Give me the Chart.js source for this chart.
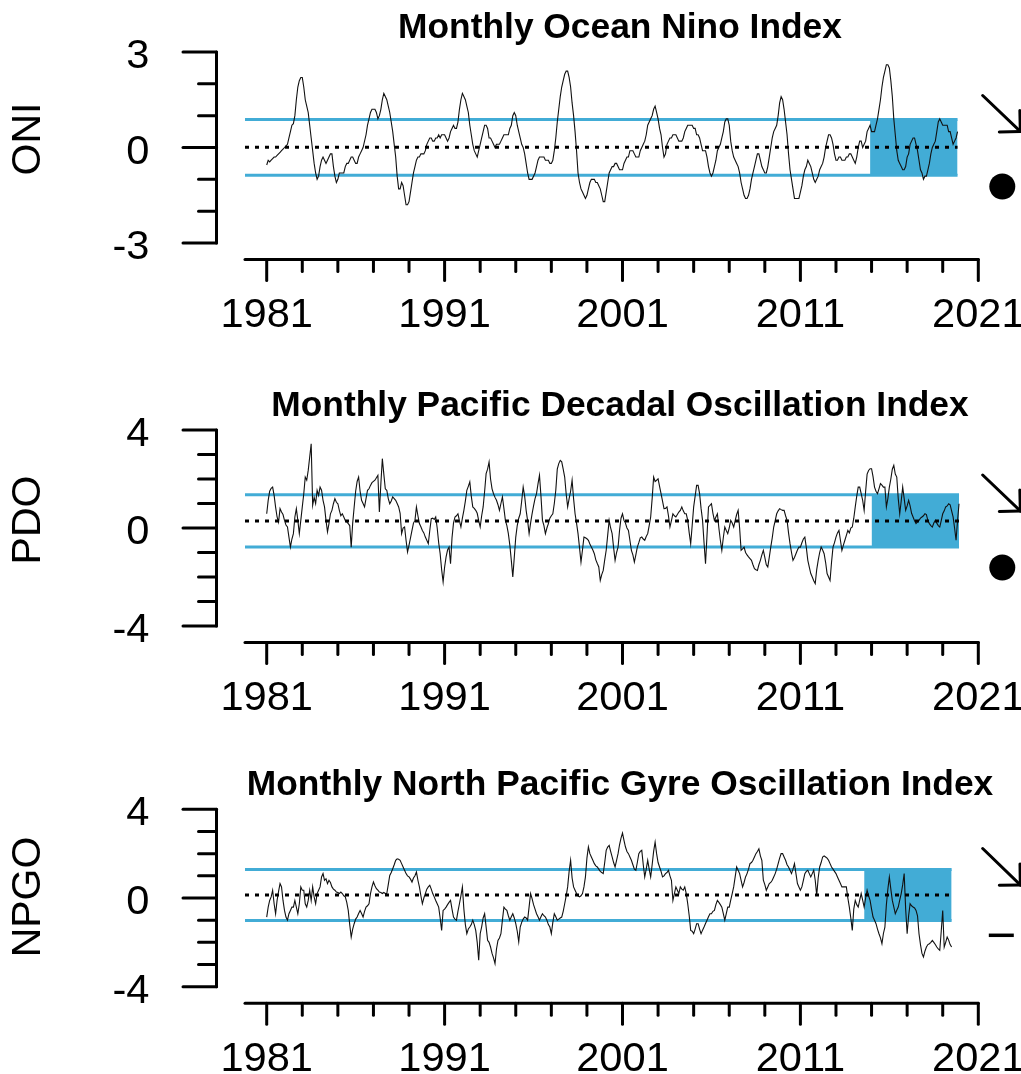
<!DOCTYPE html>
<html><head><meta charset="utf-8">
<script src="https://cdn.jsdelivr.net/npm/chart.js@4/dist/chart.umd.min.js"></script>
<style>
html,body{margin:0;padding:0;background:#fff;overflow:hidden}
#wrap{position:relative;width:1021px;height:1074px;background:#fff}
canvas{position:absolute;left:0}
</style></head><body><div id="wrap">
<canvas id="c1" width="1021" height="360" style="top:0px"></canvas>
<canvas id="c2" width="1021" height="380" style="top:360px"></canvas>
<canvas id="c3" width="1021" height="334" style="top:740px"></canvas>
</div>
<script>
// ---------------- DATA ----------------
const startYear = 1981; // first month = Jan 1981, monthly series
const oniValues = [
-0.55,-0.4,-0.45,-0.4,-0.35,-0.3,-0.3,-0.25,-0.2,-0.15,-0.1,-0.05,
0.0,0.05,0.1,0.3,0.5,0.7,0.75,1.0,1.5,1.9,2.1,2.2,
2.2,1.9,1.5,1.3,1.1,0.7,0.3,-0.1,-0.5,-0.8,-1.0,-0.9,
-0.6,-0.4,-0.3,-0.4,-0.5,-0.4,-0.3,-0.2,-0.2,-0.6,-0.9,-1.1,
-1.0,-0.8,-0.8,-0.8,-0.8,-0.6,-0.5,-0.5,-0.4,-0.3,-0.3,-0.4,
-0.5,-0.5,-0.3,-0.2,-0.1,0.0,0.2,0.4,0.7,0.9,1.1,1.2,
1.2,1.2,1.1,0.9,1.0,1.2,1.5,1.7,1.6,1.5,1.3,1.1,
0.8,0.5,0.1,-0.3,-0.9,-1.3,-1.3,-1.1,-1.2,-1.5,-1.8,-1.8,
-1.7,-1.4,-1.1,-0.8,-0.6,-0.4,-0.3,-0.3,-0.2,-0.2,-0.2,-0.1,
0.1,0.2,0.3,0.3,0.2,0.2,0.3,0.3,0.4,0.3,0.4,0.4,
0.4,0.3,0.2,0.3,0.5,0.6,0.7,0.6,0.6,0.8,1.2,1.5,
1.7,1.6,1.5,1.3,1.1,0.7,0.4,0.1,-0.1,-0.2,-0.3,-0.1,
0.1,0.3,0.5,0.7,0.7,0.6,0.3,0.3,0.2,0.1,0.0,0.1,
0.1,0.1,0.2,0.3,0.4,0.4,0.4,0.4,0.6,0.7,1.0,1.1,
1.0,0.7,0.5,0.3,0.1,0.0,-0.2,-0.5,-0.8,-1.0,-1.0,-1.0,
-0.9,-0.8,-0.6,-0.4,-0.3,-0.3,-0.3,-0.3,-0.4,-0.4,-0.4,-0.5,
-0.5,-0.4,-0.1,0.3,0.8,1.2,1.6,1.9,2.1,2.3,2.4,2.4,
2.2,1.9,1.4,1.0,0.5,-0.1,-0.8,-1.1,-1.3,-1.4,-1.5,-1.6,
-1.5,-1.3,-1.1,-1.0,-1.0,-1.0,-1.1,-1.1,-1.2,-1.3,-1.5,-1.7,
-1.7,-1.4,-1.1,-0.8,-0.7,-0.6,-0.6,-0.5,-0.5,-0.6,-0.7,-0.7,
-0.7,-0.5,-0.4,-0.3,-0.3,-0.1,-0.1,-0.1,-0.2,-0.3,-0.3,-0.3,
-0.1,0.0,0.1,0.2,0.4,0.7,0.8,0.9,1.0,1.2,1.3,1.1,
0.9,0.6,0.4,0.0,-0.3,-0.2,0.1,0.2,0.3,0.3,0.4,0.4,
0.4,0.3,0.2,0.2,0.2,0.3,0.5,0.6,0.7,0.7,0.7,0.7,
0.6,0.6,0.4,0.4,0.3,0.1,-0.1,-0.1,-0.1,-0.3,-0.6,-0.8,
-0.9,-0.8,-0.6,-0.4,-0.1,0.0,0.1,0.3,0.5,0.8,0.9,0.9,
0.7,0.2,-0.1,-0.3,-0.4,-0.5,-0.6,-0.8,-1.1,-1.3,-1.5,-1.6,
-1.6,-1.5,-1.3,-1.0,-0.8,-0.6,-0.4,-0.2,-0.2,-0.4,-0.6,-0.7,
-0.8,-0.8,-0.6,-0.3,0.0,0.3,0.5,0.6,0.7,1.0,1.4,1.6,
1.5,1.2,0.8,0.4,-0.2,-0.7,-1.0,-1.3,-1.6,-1.6,-1.6,-1.6,
-1.4,-1.2,-0.9,-0.7,-0.6,-0.4,-0.5,-0.6,-0.8,-1.0,-1.1,-1.0,
-0.9,-0.7,-0.6,-0.5,-0.3,0.0,0.2,0.4,0.4,0.3,0.1,-0.2,
-0.4,-0.4,-0.3,-0.3,-0.4,-0.4,-0.4,-0.3,-0.3,-0.2,-0.2,-0.3,
-0.4,-0.5,-0.3,0.0,0.2,0.2,0.0,0.1,0.2,0.5,0.6,0.7,
0.5,0.5,0.5,0.7,0.9,1.2,1.5,1.9,2.2,2.4,2.6,2.6,
2.5,2.1,1.6,0.9,0.4,-0.1,-0.4,-0.5,-0.6,-0.7,-0.7,-0.6,
-0.3,-0.2,0.1,0.2,0.3,0.3,0.1,-0.1,-0.4,-0.7,-0.8,-1.0,
-0.9,-0.9,-0.7,-0.5,-0.2,0.0,0.1,0.2,0.5,0.8,0.9,0.8,
0.7,0.7,0.7,0.7,0.5,0.5,0.3,0.1,0.2,0.3,0.5
];
const pdoValues = [
0.58,1.13,1.50,1.62,1.67,1.33,0.85,0.45,0.24,0.79,0.65,0.55,
0.31,0.12,0.04,-0.37,-0.78,-0.45,-0.23,0.45,0.79,0.31,-0.23,0.31,
0.86,1.40,2.08,1.95,2.35,2.90,3.44,0.93,1.25,1.00,1.54,1.33,
1.67,1.54,1.13,0.86,0.31,-0.16,0.18,0.58,0.72,0.99,1.20,1.05,
0.99,0.72,0.50,0.58,0.45,0.31,0.25,0.18,0.10,-0.78,0.20,0.86,
1.50,1.90,2.08,1.50,1.13,1.00,0.86,1.20,1.54,1.60,1.74,1.85,
1.90,1.95,2.05,2.15,0.65,1.80,2.83,2.20,1.60,1.54,1.20,0.99,
1.10,1.27,1.20,1.13,1.00,0.86,0.60,-0.23,0.00,0.04,-0.50,-0.98,
-0.70,-0.40,-0.10,0.20,0.31,0.86,0.50,0.18,0.05,-0.10,-0.20,-0.37,
-0.50,-0.64,-0.10,0.38,0.40,0.35,0.45,0.00,-0.60,-1.05,-1.70,-2.20,
-1.60,-1.18,-0.90,-0.78,-1.46,-0.40,0.20,0.45,0.50,0.58,0.30,0.04,
0.40,0.72,1.10,1.54,1.70,1.88,1.30,0.86,0.80,0.72,0.60,0.30,
0.04,0.50,0.86,1.50,2.22,2.40,2.69,2.00,1.60,1.40,1.25,1.13,
0.95,0.72,1.00,1.27,0.80,0.31,0.10,-0.23,-0.70,-1.32,-2.00,-1.20,
-0.37,0.10,0.40,0.58,1.10,1.67,1.30,0.72,0.30,-0.23,0.20,0.58,
0.90,1.20,1.40,1.80,2.15,1.30,0.31,0.10,-0.23,0.00,0.18,0.40,
0.50,0.58,1.00,1.54,2.40,2.63,2.76,2.70,2.40,2.08,1.40,0.86,
1.20,1.50,1.95,1.20,0.58,0.20,-0.23,-0.80,-1.39,-0.90,-0.37,-0.40,
-0.44,-0.50,-0.65,-0.78,-0.90,-1.05,-1.30,-1.45,-1.59,-2.14,-1.90,-1.73,
-1.30,-0.91,-0.30,0.31,0.00,-0.23,-0.80,-1.32,-1.00,-0.78,-0.10,0.40,
0.58,0.31,0.20,0.00,-0.10,-0.50,-0.91,-1.10,-1.39,-1.10,-0.78,-0.60,
-0.40,-0.37,-0.45,-0.50,-0.35,-0.23,0.10,0.45,1.20,2.08,1.90,1.95,
2.01,1.70,1.40,1.10,0.79,0.80,0.86,0.50,0.04,0.30,0.58,0.50,
0.45,0.55,0.65,0.72,0.86,0.70,0.58,0.58,0.31,-0.20,-0.64,0.10,
0.86,1.30,1.74,1.74,1.40,0.80,0.31,-0.60,-1.46,-0.30,0.86,0.92,
0.99,0.60,0.31,0.45,0.58,0.00,-0.50,-0.91,-0.40,0.04,-0.10,-0.23,
0.00,0.31,0.20,0.04,0.30,0.55,0.72,0.00,-0.91,-0.85,-0.78,-1.00,
-1.10,-1.18,-1.25,-1.32,-1.50,-1.66,-1.70,-1.73,-1.50,-1.32,-1.10,-0.91,
-1.20,-1.50,-1.59,-1.20,-0.78,-0.40,0.04,0.30,0.58,0.70,0.79,0.75,
0.72,0.72,0.50,0.31,-0.20,-0.64,-1.00,-1.32,-1.20,-1.05,-0.90,-0.78,
-0.78,-0.60,-0.45,-0.37,-0.80,-1.32,-1.60,-1.86,-2.00,-2.15,-2.27,-1.70,
-1.32,-1.00,-0.78,-0.90,-1.05,-1.40,-1.86,-2.00,-2.14,-1.40,-0.78,-0.60,
-0.37,-0.20,-0.10,-0.50,-0.91,-0.70,-0.50,-0.30,-0.10,-0.20,0.00,0.04,
0.40,0.86,1.30,1.67,1.67,1.40,1.13,0.72,1.50,2.20,2.35,2.42,
2.42,2.10,1.67,1.50,1.40,1.60,1.81,1.75,1.67,1.67,0.86,1.20,
1.67,2.00,2.40,2.56,2.20,2.08,1.20,0.58,1.10,1.67,1.20,0.72,
0.90,1.13,0.90,0.60,0.45,0.30,0.18,0.25,0.31,0.40,0.45,0.50,
0.58,0.55,0.30,0.18,0.10,0.04,0.20,0.31,0.20,0.10,0.04,0.30,
0.58,0.70,0.86,0.90,0.99,0.95,0.70,0.45,0.00,-0.50,0.30,0.99
];
const npgoValues = [
-0.86,-0.41,-0.11,0.05,0.35,-0.26,-0.71,-0.11,0.30,0.65,0.50,-0.11,
-0.56,-0.86,-1.00,-0.71,-0.56,-0.41,-0.41,-0.11,-0.41,-0.71,-0.26,0.50,
0.35,0.35,-0.26,-0.41,-0.11,0.35,-0.11,0.50,0.05,-0.26,0.20,0.35,
0.50,0.95,1.10,0.80,0.87,0.65,0.80,0.70,0.50,0.40,0.35,0.27,
0.25,0.20,0.27,0.20,0.10,0.05,-0.20,-0.56,-1.20,-1.76,-1.40,-1.16,
-0.95,-0.86,-0.70,-0.56,-0.70,-0.86,-0.60,-0.41,-0.35,-0.26,0.20,0.50,
0.72,0.55,0.42,0.35,0.27,0.25,0.20,0.25,0.20,0.20,0.60,1.02,
1.15,1.32,1.50,1.70,1.77,1.75,1.70,1.55,1.40,1.25,1.10,1.00,
0.95,0.85,0.72,0.90,1.00,1.17,0.80,0.50,0.10,-0.26,0.00,0.20,
0.40,0.50,0.57,0.40,0.20,0.05,-0.11,-0.26,-0.41,-0.90,-1.46,-0.56,
-0.50,-0.41,-0.30,-0.20,-0.11,-0.50,-0.86,-0.95,-1.00,-0.60,-0.26,0.10,
0.50,-0.50,-1.20,-1.61,-1.40,-1.31,-1.20,-1.00,-1.20,-1.46,-2.00,-2.81,
-1.61,-1.30,-0.90,-0.71,-1.30,-1.91,-2.00,-2.21,-2.50,-2.70,-2.96,-2.30,
-1.91,-1.80,-1.61,-1.00,-0.41,-0.50,-0.56,-0.80,-1.00,-0.85,-0.71,-0.90,
-1.16,-1.50,-1.98,-1.31,-1.10,-0.95,-0.86,-0.90,-1.00,-0.40,0.20,-0.03,
-0.30,-0.50,-0.71,-0.85,-1.00,-0.85,-0.71,-0.80,-0.86,-1.00,-1.20,-1.31,
-1.61,-1.10,-0.71,-0.85,-1.00,-0.95,-0.90,-0.86,-0.60,-0.26,0.10,0.50,
1.20,1.70,0.90,0.50,0.35,0.20,0.10,0.05,0.10,0.20,0.50,0.95,
1.80,2.30,2.00,1.85,1.70,1.55,1.45,1.40,1.30,1.20,1.15,1.10,
1.60,2.15,2.30,2.37,2.10,1.85,1.60,1.40,1.70,2.00,2.40,2.70,
2.93,2.60,2.30,2.10,2.00,1.85,1.70,1.50,1.30,1.25,1.60,2.00,
2.10,2.15,1.50,0.95,1.30,1.70,1.30,0.95,1.50,2.10,2.52,2.00,
1.60,1.40,1.20,0.95,1.00,1.10,1.15,1.25,1.00,0.80,-0.11,0.20,
0.50,0.35,0.20,0.50,0.40,0.35,0.50,0.20,-0.26,-0.80,-1.46,-1.50,
-1.61,-1.40,-1.16,-1.16,-1.40,-1.61,-1.45,-1.31,-1.15,-1.00,-0.85,-0.71,
-0.71,-0.60,-0.56,-0.30,-0.11,-0.20,-0.30,-0.41,-0.70,-1.00,-0.70,-0.41,
-0.41,-0.10,0.20,0.50,0.95,1.40,1.25,1.10,0.80,0.50,0.70,0.95,
1.10,1.30,1.55,1.60,1.70,1.85,2.00,2.10,2.22,1.90,1.70,0.80,
0.60,0.35,0.50,0.65,0.70,0.80,0.95,1.10,1.30,1.55,1.80,2.00,
2.00,1.85,1.70,1.50,1.40,1.25,1.10,1.30,1.55,1.10,0.65,0.50,
0.35,0.50,0.80,1.10,1.20,1.25,1.10,0.95,1.10,1.25,0.80,0.12,
0.90,1.40,1.60,1.85,1.90,1.85,1.80,1.70,1.55,1.40,1.30,1.20,
1.10,0.95,0.80,0.65,0.50,0.50,0.50,0.50,0.00,-0.41,-0.90,-1.46,
-0.50,-0.11,-0.30,-0.41,-0.10,0.20,-0.10,-0.41,0.00,0.35,0.10,-0.11,
-0.50,-0.86,-1.00,-1.16,-1.40,-1.61,-1.80,-2.06,-1.60,-1.31,-0.30,0.40,
0.95,0.40,-0.11,-0.40,-0.71,-0.55,-0.41,-0.10,0.20,0.60,1.10,-0.50,
-1.61,-0.80,-0.26,-0.35,-0.41,-0.45,-0.56,-0.80,-1.61,-2.10,-2.50,-2.66,
-2.40,-2.21,-2.10,-2.06,-2.00,-1.91,-2.00,-2.10,-2.21,-2.30,-2.36,-1.50,
-0.56,-2.21,-2.00,-1.76,-1.90,-2.10,-2.21
];
const panelTitles = ['Monthly Ocean Nino Index','Monthly Pacific Decadal Oscillation Index','Monthly North Pacific Gyre Oscillation Index'];
const indexNames = ['ONI','PDO','NPGO'];
const oniYTicks = [-3,-2,-1,0,1,2,3];
const pdoYTicks = [-4,-3,-2,-1,0,1,2,3,4];
const npgoYTicks = [-4,-3,-2,-1,0,1,2,3,4];
const oniYLabelled = [-3,0,3];
const pdoYLabelled = [-4,0,4];
const npgoYLabelled = [-4,0,4];
const yearTicks = [1981,1983,1985,1987,1989,1991,1993,1995,1997,1999,2001,2003,2005,2007,2009,2011,2013,2015,2017,2019,2021];
const yearLabels = [1981,1991,2001,2011,2021];
const longTermMeans = [0.005, 0.29, 0.13];
const longTermSDs = [0.875, 1.07, 1.15];
const trendSymbols = ['decreasing','decreasing','decreasing'];
const statusSymbols = ['within','within','below'];
const recentMonths = 60;

// ---------------- STYLE / LAYOUT ----------------
const FONT = '"Liberation Sans", Arial, Helvetica, sans-serif';
const BLUE = 'rgb(66,172,214)';
const USR_LEFT = 1979.78;
const USR_RIGHT = 2021;
const panels = [
  {id:'c1', top:52, bottom:117, yTitleY:139, arrowDy:[-52,-16], symDy:39},
  {id:'c2', top:70, bottom:114, yTitleY:160, arrowDy:[-53,-17], symDy:39.5},
  {id:'c3', top:69.3, bottom:87.3, yTitleY:157, arrowDy:[-49.5,-13], symDy:37.3}
];

function drawText(ctx, txt, x, y, align, sx){
  ctx.save(); ctx.translate(x,y); ctx.scale(sx,1);
  ctx.textAlign = align; ctx.textBaseline = 'alphabetic';
  ctx.fillText(txt,0,0); ctx.restore();
}

const rAxes = {
  id:'rAxes',
  afterDraw(chart, args, o){
    const ctx = chart.ctx, xs = chart.scales.x, ys = chart.scales.y, ca = chart.chartArea;
    ctx.save();
    ctx.strokeStyle='#000'; ctx.fillStyle='#000'; ctx.lineWidth=3; ctx.lineCap='round';
    const seg=(x1,y1,x2,y2)=>{ctx.beginPath();ctx.moveTo(x1,y1);ctx.lineTo(x2,y2);ctx.stroke();};
    // y axis (R style, detached)
    const ax = ca.left - 28.5;
    seg(ax, ys.getPixelForValue(o.yTicks[0]), ax, ys.getPixelForValue(o.yTicks[o.yTicks.length-1]));
    ctx.font = '40px '+FONT;
    o.yTicks.forEach(v=>{
      const py = ys.getPixelForValue(v), lab = o.yLabelled.includes(v);
      seg(ax-(lab?33.5:18), py, ax, py);
      if(lab) drawText(ctx, String(v), ax-67, py+16, 'right', 1.04);
    });
    // x axis
    const ay = ca.bottom + 16.5;
    seg(ca.left, ay, xs.getPixelForValue(o.xTicks[o.xTicks.length-1]), ay);
    o.xTicks.forEach(v=>{
      const px = xs.getPixelForValue(v), lab = o.xLabelled.includes(v);
      seg(px, ay, px, ay+(lab?21:12));
      if(lab) drawText(ctx, String(v), px, ay+67.4, 'center', 1.04);
    });
    // title
    ctx.font = 'bold 35px '+FONT;
    drawText(ctx, o.title, ca.left+375, ca.top-14.5, 'center', 1.01);
    // y title
    ctx.save(); ctx.translate(40, o.yTitleY); ctx.rotate(-Math.PI/2);
    ctx.font = '41px '+FONT; ctx.textAlign='center'; ctx.textBaseline='alphabetic';
    ctx.fillText(o.yTitle,0,0); ctx.restore();
    // status symbols (trend arrow + mean status)
    const zy = ys.getPixelForValue(0);
    const sx0 = ca.right+4.4, ex = ca.right+42;
    let sy0 = zy+o.arrowDy[0], ey = zy+o.arrowDy[1];
    if(o.trend==='increasing'){ const t=sy0; sy0=ey; ey=t; }
    if(o.trend!=='none'){
      seg(sx0,sy0,ex,ey);
      const ang = Math.atan2(ey-sy0, ex-sx0);
      [-1,1].forEach(s=>{const a=ang+Math.PI+s*Math.PI/4; seg(ex,ey,ex+21*Math.cos(a),ey+21*Math.sin(a));});
    }
    const cx = ca.right+24, cy = zy+o.symDy;
    if(o.status==='within'){ ctx.beginPath(); ctx.arc(cx,cy,13,0,Math.PI*2); ctx.fill(); }
    else if(o.status==='below'){ ctx.lineWidth=3.5; ctx.lineCap='butt'; seg(cx-13.5,cy,cx+11.5,cy); }
    else if(o.status==='above'){ ctx.lineWidth=3.5; ctx.lineCap='butt'; seg(cx-12,cy,cx+12,cy); seg(cx,cy-12,cx,cy+12); }
    ctx.restore();
  }
};

function makeChart(i, values, yTicks, yLabelled){
  const p = panels[i];
  const xsVals = values.map((v,k)=> startYear + k/12);
  const lastX = xsVals[xsVals.length-1];
  const boxX = xsVals[xsVals.length-recentMonths];
  const m = longTermMeans[i], sd = longTermSDs[i];
  const series = values.map((v,k)=>({x:xsVals[k], y:v}));
  const datasets = [
    {data:series, borderColor:'#111', borderWidth:1.1, order:1},
    {data:[{x:USR_LEFT,y:m},{x:lastX,y:m}], borderColor:'#000', borderWidth:3, borderDash:[4,6], order:0},
    {data:[{x:USR_LEFT,y:m+sd},{x:lastX,y:m+sd}], borderColor:BLUE, borderWidth:3, order:2},
    {data:[{x:USR_LEFT,y:m-sd},{x:lastX,y:m-sd}], borderColor:BLUE, borderWidth:3, order:2},
    {data:[{x:boxX,y:m+sd},{x:lastX,y:m+sd}], borderColor:'rgba(0,0,0,0)', borderWidth:0, backgroundColor:BLUE, fill:'+1', order:3},
    {data:[{x:boxX,y:m-sd},{x:lastX,y:m-sd}], borderColor:'rgba(0,0,0,0)', borderWidth:0, fill:false, order:3}
  ];
  return new Chart(document.getElementById(p.id), {
    type:'line',
    data:{datasets},
    options:{
      responsive:false, animation:false, devicePixelRatio:1, events:[],
      layout:{padding:{left:245, right:42.7, top:p.top, bottom:p.bottom}},
      elements:{point:{radius:0}, line:{tension:0}},
      scales:{
        x:{type:'linear', min:USR_LEFT, max:USR_RIGHT, display:false},
        y:{type:'linear', min:yTicks[0], max:yTicks[yTicks.length-1], display:false}
      },
      plugins:{
        legend:{display:false}, tooltip:{enabled:false}, title:{display:false},
        rAxes:{title:panelTitles[i], yTitle:indexNames[i], yTicks, yLabelled,
               xTicks:yearTicks, xLabelled:yearLabels, yTitleY:p.yTitleY,
               arrowDy:p.arrowDy, symDy:p.symDy, trend:trendSymbols[i], status:statusSymbols[i]}
      }
    },
    plugins:[rAxes]
  });
}
makeChart(0, oniValues, oniYTicks, oniYLabelled);
makeChart(1, pdoValues, pdoYTicks, pdoYLabelled);
makeChart(2, npgoValues, npgoYTicks, npgoYLabelled);
</script>
</body></html>
